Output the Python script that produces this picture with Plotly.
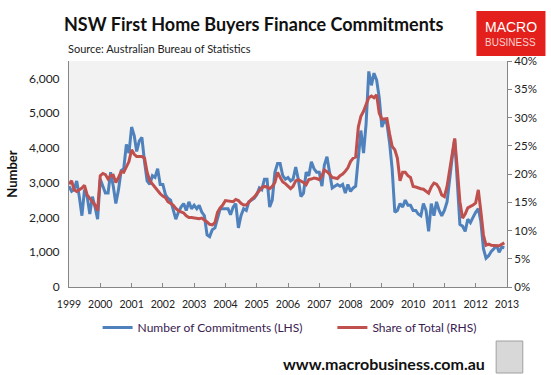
import pandas as pd
import plotly.graph_objects as go

# Monthly data, Jan 1999 - Dec 2012
months = pd.date_range("1999-01-01", periods=168, freq="MS")

commitments = [
    # 1999
    2900, 2750, 2800, 3050, 2600, 2050, 2800, 2600, 2100, 2600, 2300, 1950,
    # 2000
    3100, 2900, 2700, 2700, 3300, 2900, 2400, 2800, 3350, 3400, 4100, 3850,
    # 2001
    4600, 4350, 3900, 4200, 4300, 3600, 3050, 2950, 3200, 3150, 3400, 2950,
    # 2002
    2950, 2650, 2550, 2500, 2250, 1950, 2150, 2300, 2400, 2200, 2450, 2250,
    # 2003
    2350, 2250, 2350, 2150, 2050, 1500, 1450, 1650, 1700, 2000, 2250, 2250,
    # 2004
    2250, 2250, 2080, 2300, 2400, 1700, 2050, 2250, 2200, 2450, 2500, 2550,
    # 2005
    2650, 2850, 2800, 3100, 3100, 2300, 2500, 3300, 3550, 3550, 3200, 3100,
    # 2006
    3150, 3050, 3100, 3450, 3100, 2600, 2700, 3300, 3200, 3600, 3400, 3300,
    # 2007
    3300, 2900, 3500, 3750, 3300, 2850, 2900, 2950, 2900, 2950, 2700, 2950,
    # 2008
    2750, 2850, 2900, 3800, 4500, 3850, 4700, 6200, 5800, 6150, 5950, 5450,
    # 2009
    4600, 4800, 4700, 4150, 3400, 2150, 2200, 2400, 2300, 2500, 2350, 2350,
    # 2010
    2200, 2200, 2100, 2050, 2400, 2200, 1600, 2400, 2050, 2450, 2200, 2050,
    # 2011
    2200, 2450, 3100, 3700, 4250, 2900, 1800, 1750, 1600, 1950, 1850, 2000,
    # 2012
    2150, 2250, 1900, 1100, 830, 900, 1020, 1100, 1200, 1000, 1150, 1130,
]

share_pct = [
    # 1999
    18.2, 18.8, 17.2, 16.9, 17.2, 17.5, 18.0, 16.3, 15.7, 15.1, 14.5, 13.5,
    # 2000
    19.7, 20.1, 19.9, 19.1, 19.7, 19.8, 18.5, 19.4, 20.4, 20.3, 21.2, 22.2,
    # 2001
    24.3, 23.5, 23.1, 23.1, 23.1, 22.8, 20.3, 18.8, 18.2, 17.5, 16.9, 16.5,
    # 2002
    16.1, 15.8, 15.1, 14.8, 14.5, 13.9, 13.5, 13.3, 13.1, 12.6, 12.3, 12.3,
    # 2003
    12.2, 12.2, 12.1, 12.2, 11.9, 11.5, 11.1, 11.0, 11.4, 13.2, 14.0, 14.5,
    # 2004
    15.3, 15.2, 15.1, 15.1, 15.5, 15.3, 14.8, 14.5, 14.5, 15.1, 15.5, 15.9,
    # 2005
    16.5, 17.2, 17.6, 17.8, 17.7, 17.4, 17.8, 18.5, 20.3, 19.4, 18.6, 18.3,
    # 2006
    17.8, 17.4, 17.8, 18.8, 19.0, 18.8, 18.5, 18.1, 19.0, 19.1, 19.3, 19.2,
    # 2007
    19.0, 19.7, 20.7, 20.4, 20.0, 19.4, 19.3, 19.2, 19.7, 20.0, 20.5, 21.1,
    # 2008
    22.2, 22.8, 23.0, 28.3, 30.2, 31.1, 32.3, 33.5, 33.8, 33.5, 34.0, 30.8,
    # 2009
    29.7, 29.7, 29.8, 27.1, 24.9, 24.3, 22.8, 18.8, 20.3, 20.3, 19.7, 19.4,
    # 2010
    17.8, 17.7, 17.5, 17.4, 17.3, 17.0, 16.6, 17.7, 18.4, 18.2, 17.5, 16.3,
    # 2011
    16.0, 17.8, 20.6, 23.7, 26.3, 20.9, 15.1, 12.2, 12.9, 14.0, 14.2, 14.5,
    # 2012
    14.9, 17.2, 13.5, 9.2, 7.4, 7.6, 7.4, 7.3, 7.3, 7.3, 7.6, 7.8,
]
share = [v / 100 for v in share_pct]

year_ticks = [f"{y}-01-01" for y in range(1999, 2014)]
year_labels = [str(y) for y in range(1999, 2014)]

TITLE = "NSW First Home Buyers Finance Commitments"
SUBTITLE = "Source: Australian Bureau of Statistics"
URL = "www.macrobusiness.com.au"

W, H = 551, 375
L, R, T, B = 63, 44, 61, 88
PW, PH = W - L - R, H - T - B


def px(x):
    return (x - L) / PW


def py(y):
    return (H - B - y) / PH


FONT = "Lato, 'Open Sans', sans-serif"

fig = go.Figure()
fig.add_trace(go.Scatter(
    x=months, y=commitments, name="Number of Commitments (LHS)",
    mode="lines", line=dict(color="#4F81BD", width=3), yaxis="y", legend="legend"))
fig.add_trace(go.Scatter(
    x=months, y=share, name="Share of Total (RHS)",
    mode="lines", line=dict(color="#C0504D", width=3), yaxis="y2", legend="legend2"))

legend_common = dict(orientation="h", xanchor="left", yanchor="top",
                     font=dict(size=12, color="#3a2050"),
                     bgcolor="rgba(0,0,0,0)", itemwidth=30)

fig.update_layout(
    width=W, height=H,
    margin=dict(l=L, r=R, t=T, b=B),
    paper_bgcolor="white", plot_bgcolor="#F2F2F2",
    font=dict(family=FONT, size=11, color="#222"),
    showlegend=True,
    legend=dict(x=px(92), y=py(313), **legend_common),
    legend2=dict(x=px(330), y=py(313), **legend_common),
    xaxis=dict(
        type="date", range=["1999-01-01", "2013-01-01"],
        tickvals=year_ticks, ticktext=year_labels,
        showgrid=False, zeroline=False,
        showline=True, linecolor="#868686", linewidth=1,
        ticks="inside", ticklen=4, tickcolor="#868686",
        tickfont=dict(size=10.5, color="#222"), ticklabelstandoff=7,
    ),
    yaxis=dict(
        range=[0, 6500], tickvals=[0, 1000, 2000, 3000, 4000, 5000, 6000],
        tickformat=",d", showgrid=False, zeroline=False,
        showline=True, linecolor="#868686", linewidth=1,
        ticks="", tickfont=dict(size=12, color="#222"), ticklabelstandoff=6,
        title=dict(text="<b>Number</b>", font=dict(size=13, color="#111"), standoff=8),
    ),
    yaxis2=dict(
        range=[0, 0.40], overlaying="y", side="right",
        tickvals=[0, 0.05, 0.10, 0.15, 0.20, 0.25, 0.30, 0.35, 0.40],
        tickformat=".0%", showgrid=False, zeroline=False,
        showline=True, linecolor="#868686", linewidth=1,
        ticks="outside", ticklen=4, tickcolor="#868686",
        tickfont=dict(size=11.5, color="#222"),
    ),
)

# Titles
fig.add_annotation(text=f"<b>{TITLE}</b>", xref="paper", yref="paper",
                   x=px(250), y=py(24), xanchor="center", yanchor="middle",
                   showarrow=False, font=dict(size=18, color="#111"))
fig.add_annotation(text=SUBTITLE, xref="paper", yref="paper",
                   x=px(60), y=py(48), xanchor="left", yanchor="middle",
                   showarrow=False, font=dict(size=11, color="#222"))

# Logo box
fig.add_shape(type="rect", xref="paper", yref="paper",
              x0=px(476), x1=px(546), y0=py(56), y1=py(11),
              fillcolor="#E3201B", line=dict(width=0), layer="above")
fig.add_annotation(text="MACRO", xref="paper", yref="paper",
                   x=px(511), y=py(27), xanchor="center", yanchor="middle",
                   showarrow=False, font=dict(size=14, color="white", family="Liberation Sans, Arial"))
fig.add_annotation(text="BUSINESS", xref="paper", yref="paper",
                   x=px(511), y=py(42), xanchor="center", yanchor="middle",
                   showarrow=False, font=dict(size=10, color="#F8D0D0", family="Liberation Sans, Arial"))

# Footer
fig.add_annotation(text=f"<b>{URL}</b>", xref="paper", yref="paper",
                   x=px(487), y=py(363), xanchor="right", yanchor="middle",
                   showarrow=False, font=dict(size=16, color="#111"))
fig.add_shape(type="rect", xref="paper", yref="paper",
              x0=px(496), x1=px(523), y0=py(373), y1=py(341),
              fillcolor="#D8D8D8", line=dict(color="#A0A0A0", width=1))

fig.write_html("out.html", config={"displayModeBar": False},
               post_script="document.body.style.margin='0';document.body.style.overflow='hidden';")
